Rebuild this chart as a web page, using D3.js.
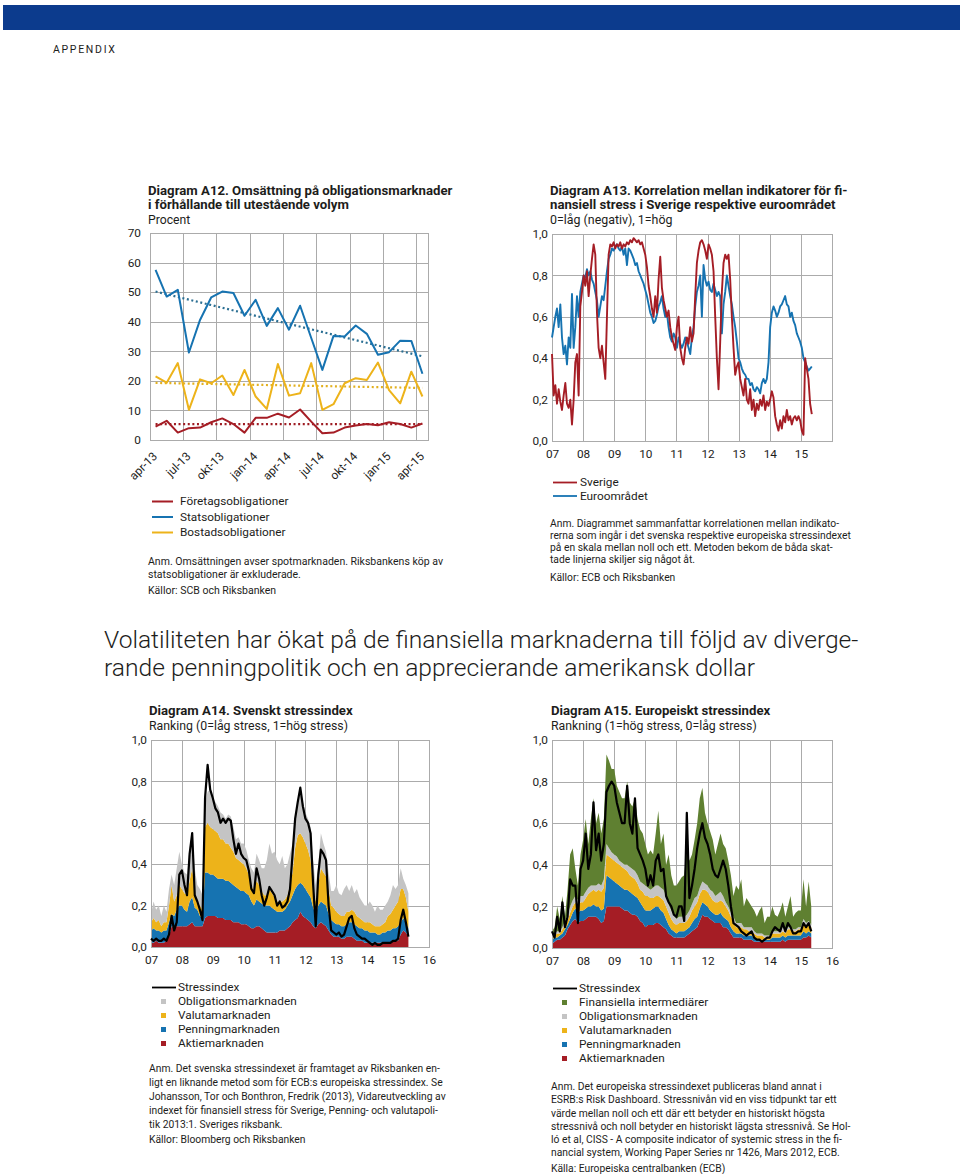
<!DOCTYPE html>
<html lang="sv">
<head>
<meta charset="utf-8">
<script src="https://cdn.jsdelivr.net/npm/d3@7"></script>
<style>
  body { margin: 0; background: #fff; }
  svg text { font-family: Roboto, "Open Sans", sans-serif; fill: #1d1d1b; }
</style>
</head>
<body>
<script>
// ---------- Diagram A12: monthly turnover, per cent ----------
const a12Months = ["apr-13","maj-13","jun-13","jul-13","aug-13","sep-13","okt-13","nov-13","dec-13",
  "jan-14","feb-14","mar-14","apr-14","maj-14","jun-14","jul-14","aug-14","sep-14","okt-14","nov-14",
  "dec-14","jan-15","feb-15","mar-15","apr-15"];
const a12Labels = ["apr-13","jul-13","okt-13","jan-14","apr-14","jul-14","okt-14","jan-15","apr-15"];
const a12Stats   = [57.5,48.5,50.8,29.6,40.6,48.2,50.2,49.7,42,47.4,38.6,44.6,37.3,45.4,34.5,23.7,35.2,35,38.7,35.9,28.8,29.7,33.6,33.5,22.4];
const a12Bostad  = [21.5,19.4,26,10.2,20.5,19.2,21.8,15.2,23.7,14.7,10.5,25.7,15,15.8,26,10.2,12.1,19.2,20.9,20.3,26.2,16.9,12.4,23.1,14.7];
const a12Foretag = [4.5,6.5,2.5,4,4.2,6,7.3,5.4,2.5,7.5,7.5,8.9,7.6,10.3,6.2,2.3,2.5,4.2,4.9,5.4,5,6,5.4,4.2,5.6];
// trend lines: value at first and last month
const a12TrendStats   = [50.2, 28.3];
const a12TrendBostad  = [19.3, 17.6];
const a12TrendForetag = [5.4, 5.4];

// ---------- Diagram A13: correlation, sampled roughly every 20 days from jan 2007 ----------
const a13Start = 2007, a13Step = 0.05353;
const a13Sverige = [
  .42,.22,.27,.18,.25,.19,.15,.22,.28,.18,.16,.2,
  .08,.2,.38,.42,.22,.65,.72,.8,.75,.82,.7,.8,
  .88,.95,.9,.62,.45,.4,.46,.38,.3,.6,.9,.95,
  .94,.96,.93,.95,.94,.96,.93,.95,.94,.96,.95,.97,
  .96,.98,.97,.96,.97,.95,.96,.93,.9,.84,.75,.7,
  .64,.6,.7,.62,.78,.89,.74,.68,.64,.6,.63,.55,
  .5,.47,.44,.55,.6,.45,.4,.37,.45,.5,.47,.55,
  .48,.52,.7,.86,.92,.96,.97,.95,.92,.88,.95,.93,
  .9,.82,.6,.4,.25,.48,.72,.86,.9,.88,.9,.78,
  .6,.45,.32,.36,.38,.3,.26,.22,.3,.2,.18,.25,
  .15,.2,.12,.18,.15,.2,.17,.22,.15,.19,.17,.2,
  .24,.21,.12,.08,.05,.1,.06,.12,.09,.15,.1,.12,
  .08,.11,.12,.1,.12,.1,.05,.03,.4,.35,.3,.18,
  .13];
const a13Euro = [
  .5,.55,.6,.64,.55,.66,.5,.42,.46,.37,.5,.45,
  .71,.45,.55,.7,.6,.72,.76,.8,.79,.83,.8,.82,
  .78,.76,.72,.68,.6,.65,.7,.68,.75,.82,.88,.9,
  .93,.92,.94,.95,.93,.92,.94,.9,.93,.85,.93,.92,
  .9,.88,.85,.86,.82,.8,.78,.76,.73,.7,.66,.62,
  .6,.57,.58,.61,.65,.67,.7,.64,.6,.62,.55,.5,
  .48,.52,.5,.45,.5,.47,.45,.47,.5,.48,.45,.42,
  .5,.55,.65,.72,.75,.8,.6,.85,.78,.75,.77,.73,
  .72,.76,.73,.7,.72,.7,.52,.66,.72,.8,.75,.7,
  .66,.6,.55,.48,.4,.38,.35,.33,.32,.3,.3,.27,
  .28,.25,.24,.26,.25,.23,.28,.3,.28,.3,.38,.55,
  .62,.65,.63,.6,.62,.65,.66,.68,.7,.66,.65,.6,
  .62,.58,.56,.52,.5,.48,.45,.4,.38,.36,.34,.35,
  .36];

// ---------- Diagram A14: Swedish stress index, monthly from jan 2007 ----------
const stressStart = 2007;
const a14Aktie = [
  .02,.02,.03,.02,.02,.02,.03,.05,.10,.10,.10,.10,
  .10,.10,.10,.11,.12,.10,.10,.10,.10,.14,.15,.15,
  .15,.15,.14,.14,.14,.13,.13,.13,.12,.12,.12,.11,
  .11,.11,.10,.09,.09,.10,.10,.09,.08,.07,.07,.07,
  .07,.07,.08,.08,.08,.09,.10,.12,.13,.14,.17,.15,
  .14,.13,.12,.10,.09,.11,.12,.11,.10,.08,.06,.05,
  .05,.05,.04,.04,.05,.05,.05,.04,.03,.03,.03,.02,
  .02,.02,.02,.02,.02,.02,.02,.02,.02,.02,.03,.03,
  .03,.06,.08,.07,.05];
const a14Penning = [
  .06,.07,.05,.06,.05,.06,.05,.07,.06,.05,.08,.10,
  .10,.08,.07,.11,.12,.09,.08,.05,.04,.22,.21,.20,
  .20,.19,.19,.19,.19,.19,.19,.18,.18,.17,.16,.16,
  .16,.15,.15,.13,.11,.13,.12,.12,.12,.13,.13,.12,
  .11,.10,.09,.09,.10,.11,.12,.13,.15,.16,.14,.15,
  .14,.13,.12,.09,.07,.09,.10,.10,.10,.08,.07,.07,
  .06,.06,.06,.06,.06,.07,.07,.07,.07,.06,.06,.06,
  .06,.05,.05,.05,.04,.04,.05,.05,.06,.06,.06,.06,
  .07,.06,.06,.05,.04];
const a14Valuta = [
  .04,.05,.04,.05,.03,.04,.04,.08,.14,.07,.07,.10,
  .08,.08,.08,.10,.14,.08,.04,.05,.04,.22,.24,.23,
  .22,.22,.22,.19,.19,.18,.18,.17,.16,.14,.14,.14,
  .13,.12,.10,.08,.07,.09,.08,.06,.05,.05,.08,.07,
  .06,.05,.05,.05,.05,.05,.08,.11,.20,.24,.24,.23,
  .22,.21,.18,.11,.06,.10,.16,.15,.14,.12,.07,.07,
  .06,.05,.05,.05,.06,.05,.06,.06,.05,.05,.04,.04,
  .04,.05,.04,.03,.04,.04,.04,.05,.07,.08,.09,.11,
  .12,.16,.14,.12,.08];
const a14Oblig = [
  .04,.08,.06,.07,.05,.08,.05,.08,.05,.08,.13,.16,
  .12,.10,.10,.16,.17,.11,.08,.08,.07,.12,.15,.18,
  .15,.14,.13,.13,.12,.12,.14,.15,.12,.09,.11,.09,
  .10,.09,.07,.08,.09,.13,.12,.11,.13,.17,.22,.19,
  .22,.20,.18,.22,.15,.15,.15,.14,.14,.16,.20,.17,
  .15,.15,.16,.12,.08,.10,.17,.14,.12,.08,.07,.08,
  .13,.10,.10,.13,.13,.10,.12,.09,.13,.10,.09,.08,
  .08,.10,.09,.07,.10,.08,.07,.08,.07,.09,.12,.08,
  .08,.10,.05,.06,.09];
const a14Index = [
  .04,.03,.04,.03,.03,.04,.03,.06,.15,.08,.12,.35,
  .37,.30,.25,.45,.55,.25,.22,.18,.13,.72,.88,.76,
  .72,.67,.65,.60,.62,.60,.62,.61,.52,.45,.50,.45,
  .43,.42,.37,.28,.26,.38,.33,.25,.20,.24,.29,.27,
  .25,.20,.22,.19,.20,.22,.28,.45,.62,.70,.77,.68,
  .62,.60,.55,.30,.10,.35,.47,.45,.42,.20,.08,.07,
  .06,.07,.05,.06,.10,.14,.15,.09,.06,.05,.04,.04,
  .03,.02,.01,.02,.01,.01,.02,.02,.02,.02,.03,.03,
  .04,.13,.18,.12,.05];

// ---------- Diagram A15: European stress index (CISS), monthly from jan 2007 ----------
const a15Aktie = [
  .02,.03,.04,.04,.05,.06,.09,.11,.13,.14,.12,.13,
  .13,.14,.15,.15,.15,.15,.14,.12,.13,.20,.20,.20,
  .20,.20,.20,.19,.18,.18,.17,.16,.16,.15,.13,.12,
  .10,.11,.11,.11,.12,.12,.11,.10,.09,.07,.06,.05,
  .05,.05,.05,.05,.06,.07,.08,.09,.10,.13,.16,.15,
  .15,.14,.13,.12,.12,.12,.10,.10,.09,.07,.05,.05,
  .05,.05,.04,.04,.04,.04,.03,.03,.03,.03,.03,.03,
  .03,.03,.03,.03,.03,.04,.03,.04,.04,.04,.04,.04,
  .04,.05,.05,.06,.05];
const a15Penning = [
  .02,.02,.01,.02,.02,.03,.02,.03,.04,.05,.05,.05,
  .05,.05,.05,.05,.06,.05,.06,.06,.06,.15,.14,.13,
  .12,.11,.10,.10,.10,.10,.10,.10,.09,.09,.09,.08,
  .08,.07,.07,.08,.08,.08,.07,.07,.05,.04,.03,.03,
  .02,.03,.03,.03,.03,.03,.04,.05,.05,.06,.06,.06,
  .05,.04,.04,.04,.04,.05,.05,.04,.04,.03,.03,.02,
  .02,.02,.02,.02,.02,.02,.02,.01,.01,.01,.01,.01,
  .01,.02,.02,.02,.02,.02,.02,.02,.02,.02,.02,.02,
  .02,.03,.02,.02,.02];
const a15Valuta = [
  .01,.01,.02,.01,.02,.02,.02,.03,.03,.03,.03,.04,
  .04,.05,.06,.07,.07,.07,.08,.09,.10,.10,.10,.10,
  .10,.10,.10,.10,.10,.09,.08,.08,.08,.07,.06,.07,
  .07,.07,.06,.05,.05,.05,.06,.06,.06,.06,.05,.04,
  .04,.04,.04,.04,.04,.05,.06,.06,.07,.07,.06,.07,
  .07,.07,.06,.06,.06,.06,.07,.06,.05,.05,.05,.03,
  .03,.03,.03,.03,.02,.02,.02,.02,.02,.02,.01,.01,
  .01,.02,.02,.02,.02,.02,.02,.03,.03,.02,.02,.03,
  .03,.04,.04,.04,.03];
const a15Oblig = [
  .01,.01,.01,.01,.01,.02,.03,.03,.03,.03,.03,.03,
  .03,.03,.03,.03,.02,.03,.03,.03,.04,.05,.04,.03,
  .03,.03,.02,.02,.02,.03,.04,.04,.04,.04,.04,.04,
  .05,.04,.04,.05,.05,.05,.05,.05,.05,.04,.04,.04,
  .03,.03,.03,.03,.03,.03,.03,.04,.03,.03,.04,.03,
  .03,.03,.04,.03,.04,.04,.03,.02,.02,.02,.02,.02,
  .02,.02,.01,.01,.02,.02,.01,.01,.01,.01,.01,.01,
  .01,.01,.01,.01,.01,.02,.01,.01,.01,.01,.01,.01,
  .01,.02,.01,.01,.01];
const a15Fin = [
  .02,.03,.12,.06,.15,.02,.12,.25,.25,.13,.07,.20,
  .27,.35,.21,.32,.42,.30,.34,.25,.29,.43,.42,.40,
  .41,.34,.33,.31,.32,.40,.31,.30,.35,.27,.25,.24,
  .20,.16,.19,.16,.25,.36,.21,.27,.15,.24,.17,.14,
  .16,.17,.19,.20,.34,.24,.24,.28,.35,.43,.45,.34,
  .30,.28,.25,.20,.24,.28,.25,.26,.22,.18,.10,.18,
  .16,.21,.10,.14,.12,.10,.10,.08,.11,.13,.06,.09,
  .09,.12,.08,.07,.10,.12,.07,.10,.15,.06,.08,.08,
  .08,.19,.08,.19,.09];
const a15Index = [
  .08,.05,.15,.08,.22,.10,.15,.33,.30,.30,.12,.38,
  .42,.55,.38,.45,.70,.47,.55,.42,.50,.75,.78,.80,
  .78,.70,.65,.60,.60,.78,.60,.55,.72,.48,.45,.42,
  .38,.30,.35,.30,.42,.45,.37,.38,.25,.22,.20,.16,
  .15,.20,.20,.13,.65,.24,.30,.38,.48,.55,.60,.53,
  .50,.45,.38,.35,.34,.38,.42,.38,.30,.20,.12,.11,
  .10,.08,.07,.06,.07,.08,.05,.04,.04,.03,.04,.05,
  .05,.08,.10,.09,.08,.12,.08,.12,.10,.07,.07,.08,
  .08,.12,.10,.12,.08];

const yearTicks = d3.range(2007, 2017);

// ---------- page ----------
const W = 960, H = 1174;
const gridCol = "#ababab";
const cRed = "#a51d25", cBlue = "#1673b1", cYellow = "#edb31a", cGray = "#c4c4c4", cGreen = "#5f8031";
const fmtComma = d3.formatLocale({decimal: ",", thousands: " ", grouping: [3], currency: ["", ""]}).format(".1f");

const svg = d3.select("body").append("svg").attr("width", W).attr("height", H);

svg.append("rect").attr("x", 3).attr("y", 5).attr("width", W - 3).attr("height", 25).attr("fill", "#0c3b8d");
svg.append("text").attr("x", 53).attr("y", 53).attr("font-size", 10.5).attr("letter-spacing", 1.7).text("APPENDIX");

// block of text lines; sx squeezes the glyphs horizontally (the original face is narrow)
function lines(x, ys, texts, size, weight, sx) {
  const g = svg.append("g").attr("transform", `translate(${x},0) scale(${sx || 1},1)`);
  texts.forEach((t, i) => {
    g.append("text").attr("x", 0).attr("y", ys[i]).attr("font-size", size)
      .attr("font-weight", weight || 400).text(t);
  });
  return g;
}

// grid + labels using d3 axes
function axes(g, x, y, xVals, yVals, yFmt, xFmt, yPad, xPad) {
  const [yb, yt] = y.range(), [xl, xr] = x.range();
  g.append("g").attr("transform", `translate(${xl},0)`)
    .call(d3.axisLeft(y).tickValues(yVals).tickSize(-(xr - xl)).tickPadding(yPad).tickFormat(yFmt))
    .call(a => a.select(".domain").remove())
    .call(a => a.selectAll("line").attr("stroke", gridCol).attr("shape-rendering", "crispEdges"))
    .call(a => a.selectAll("text").attr("font-size", 11.8).attr("font-family", null).attr("fill", null));
  if (x.bandwidth) return;
  g.append("g").attr("transform", `translate(0,${yb})`)
    .call(d3.axisBottom(x).tickValues(xVals).tickSize(-(yb - yt)).tickPadding(xPad).tickFormat(xFmt))
    .call(a => a.select(".domain").remove())
    .call(a => a.selectAll("line").attr("stroke", gridCol).attr("shape-rendering", "crispEdges"))
    .call(a => a.selectAll("text").attr("font-size", 11.8).attr("font-family", null).attr("fill", null));
}

function frame(g, x, y) {
  const [yb, yt] = y.range(), [xl, xr] = x.range();
  g.append("rect").attr("x", xl).attr("y", yt).attr("width", xr - xl).attr("height", yb - yt)
    .attr("fill", "none").attr("stroke", gridCol).attr("shape-rendering", "crispEdges");
}

// ---------- A12 ----------
{
  lines(148, [195, 209], ["Diagram A12. Omsättning på obligationsmarknader", "i förhållande till utestående volym"], 13.2, 700);
  lines(148, [224], ["Procent"], 12.2);

  const x = d3.scaleBand().domain(a12Months).range([150, 428]);
  const y = d3.scaleLinear().domain([0, 70]).range([440, 233]);
  const bw = x.bandwidth();
  const g = svg.append("g");
  axes(g, x, y, null, d3.range(0, 71, 10), d3.format("d"), null, 9, 0);

  g.append("g").attr("transform", `translate(${-bw / 2},440)`)
    .call(d3.axisBottom(x).tickValues(a12Labels).tickSize(-207))
    .call(a => a.select(".domain").remove())
    .call(a => a.selectAll("line").attr("stroke", gridCol).attr("shape-rendering", "crispEdges"))
    .call(a => a.selectAll("text").attr("font-size", 11.8).attr("font-family", null).attr("fill", null)
      .attr("x", 0).attr("y", 0).attr("dy", null).attr("text-anchor", "end")
      .attr("transform", "translate(8,17) rotate(-45)"));
  frame(g, x, y);

  const cx = m => x(m) + bw / 2;
  const line = d3.line().x((d, i) => cx(a12Months[i])).y(d => y(d));
  const trend = d3.line().x((d, i) => cx(a12Months[i === 0 ? 0 : a12Months.length - 1])).y(d => y(d));

  [[a12TrendStats, "#2b6f93"], [a12TrendBostad, "#e2b01f"], [a12TrendForetag, "#9e1c23"]].forEach(([d, c]) => {
    g.append("path").attr("d", trend(d)).attr("fill", "none").attr("stroke", c)
      .attr("stroke-width", 2.2).attr("stroke-dasharray", "2,2.6");
  });
  [[a12Bostad, cYellow], [a12Foretag, cRed], [a12Stats, cBlue]].forEach(([d, c]) => {
    g.append("path").attr("d", line(d)).attr("fill", "none").attr("stroke", c)
      .attr("stroke-width", 2).attr("stroke-linejoin", "round");
  });

  const leg = [["Företagsobligationer", cRed], ["Statsobligationer", cBlue], ["Bostadsobligationer", cYellow]];
  leg.forEach(([t, c], i) => {
    const by = 505 + i * 15.5;
    svg.append("line").attr("x1", 152).attr("x2", 173).attr("y1", by - 3.5).attr("y2", by - 3.5)
      .attr("stroke", c).attr("stroke-width", 2);
    svg.append("text").attr("x", 180).attr("y", by).attr("font-size", 11.8).text(t);
  });

  lines(148, [565, 578], ["Anm. Omsättningen avser spotmarknaden. Riksbankens köp av",
    "statsobligationer är exkluderade."], 11.5, 400, 0.915);
  lines(148, [594], ["Källor: SCB och Riksbanken"], 11.5, 400, 0.915);
}

// ---------- A13 ----------
{
  lines(550, [195, 209], ["Diagram A13. Korrelation mellan indikatorer för fi-",
    "nansiell stress i Sverige respektive euroområdet"], 13.2, 700);
  lines(550, [224], ["0=låg (negativ), 1=hög"], 12.4);

  const x = d3.scaleLinear().domain([2007, 2016]).range([552, 832]);
  const y = d3.scaleLinear().domain([0, 1]).range([441, 234]);
  const g = svg.append("g");
  axes(g, x, y, d3.range(2007, 2016), d3.range(0, 1.01, 0.2), fmtComma, d => String(d).slice(2), 4, 8.6);
  frame(g, x, y);

  const line = d3.line().x((d, i) => x(a13Start + i * a13Step)).y(d => y(d));
  g.append("path").attr("d", line(a13Euro)).attr("fill", "none").attr("stroke", cBlue)
    .attr("stroke-width", 1.9).attr("stroke-linejoin", "round");
  g.append("path").attr("d", line(a13Sverige)).attr("fill", "none").attr("stroke", cRed)
    .attr("stroke-width", 1.9).attr("stroke-linejoin", "round");

  [["Sverige", cRed], ["Euroområdet", cBlue]].forEach(([t, c], i) => {
    const by = 486 + i * 13.5;
    svg.append("line").attr("x1", 553).attr("x2", 577).attr("y1", by - 3.5).attr("y2", by - 3.5)
      .attr("stroke", c).attr("stroke-width", 1.8);
    svg.append("text").attr("x", 580).attr("y", by).attr("font-size", 11.8).text(t);
  });

  lines(550, [527, 539, 551, 563], [
    "Anm. Diagrammet sammanfattar korrelationen mellan indikato-",
    "rerna som ingår i det svenska respektive europeiska stressindexet",
    "på en skala mellan noll och ett.  Metoden bekom de båda skat-",
    "tade linjerna skiljer sig något åt."], 11.4, 400, 0.905);
  lines(550, [581], ["Källor: ECB och Riksbanken"], 11.4, 400, 0.905);
}

// ---------- heading ----------
lines(104, [648, 676], [
  "Volatiliteten har ökat på de finansiella marknaderna till följd av diverge-",
  "rande penningpolitik och en apprecierande amerikansk dollar"], 24.6, 300);

// ---------- stacked stress charts ----------
function stressChart(x, y, keys, cols, comps, index) {
  const g = svg.append("g");
  axes(g, x, y, yearTicks, d3.range(0, 1.01, 0.2), fmtComma, d => String(d).slice(2), 4, 9);
  const rows = index.map((v, i) => {
    const r = {t: stressStart + i / 12};
    keys.forEach((k, j) => r[k] = comps[j][i]);
    return r;
  });
  const series = d3.stack().keys(keys)(rows);
  const area = d3.area().x(d => x(d.data.t)).y0(d => y(d[0])).y1(d => y(d[1]));
  g.selectAll("path.layer").data(series).join("path").attr("class", "layer")
    .attr("d", area).attr("fill", (d, i) => cols[i]);
  frame(g, x, y);
  const line = d3.line().x((d, i) => x(stressStart + i / 12)).y(d => y(d));
  g.append("path").attr("d", line(index)).attr("fill", "none").attr("stroke", "#000")
    .attr("stroke-width", 2.2).attr("stroke-linejoin", "round");
}

function stressLegend(x0, y0, step, items) {
  items.forEach(([t, c], i) => {
    const by = y0 + i * step;
    if (c === null) {
      svg.append("line").attr("x1", x0).attr("x2", x0 + 24).attr("y1", by - 3.5).attr("y2", by - 3.5)
        .attr("stroke", "#000").attr("stroke-width", 1.8);
    } else {
      svg.append("rect").attr("x", x0 + 9).attr("y", by - 6).attr("width", 5).attr("height", 5).attr("fill", c);
    }
    svg.append("text").attr("x", x0 + 26).attr("y", by).attr("font-size", 11.8).text(t);
  });
}

// A14
{
  lines(149, [715], ["Diagram A14. Svenskt stressindex"], 13.2, 700);
  lines(149, [730], ["Ranking (0=låg stress, 1=hög stress)"], 12.3);
  const x = d3.scaleLinear().domain([2007, 2016]).range([151, 429]);
  const y = d3.scaleLinear().domain([0, 1]).range([947, 740]);
  stressChart(x, y, ["aktie", "penning", "valuta", "oblig"], [cRed, cBlue, cYellow, cGray],
    [a14Aktie, a14Penning, a14Valuta, a14Oblig], a14Index);
  stressLegend(152, 991, 14, [["Stressindex", null], ["Obligationsmarknaden", cGray],
    ["Valutamarknaden", cYellow], ["Penningmarknaden", cBlue], ["Aktiemarknaden", cRed]]);
  lines(149, [1072, 1086, 1100, 1114, 1128], [
    "Anm. Det svenska stressindexet är framtaget av Riksbanken en-",
    "ligt en liknande metod som för ECB:s europeiska stressindex. Se",
    "Johansson, Tor och Bonthron, Fredrik (2013), Vidareutveckling av",
    "indexet för finansiell stress för Sverige, Penning- och valutapoli-",
    "tik 2013:1. Sveriges riksbank."], 11.4, 400, 0.905);
  lines(149, [1143], ["Källor: Bloomberg och Riksbanken"], 11.4, 400, 0.905);
}

// A15
{
  lines(551, [715], ["Diagram A15. Europeiskt stressindex"], 13.2, 700);
  lines(551, [730], ["Rankning (1=hög stress, 0=låg stress)"], 12.3);
  const x = d3.scaleLinear().domain([2007, 2016]).range([552, 832]);
  const y = d3.scaleLinear().domain([0, 1]).range([948, 740]);
  stressChart(x, y, ["aktie", "penning", "valuta", "oblig", "fin"], [cRed, cBlue, cYellow, cGray, cGreen],
    [a15Aktie, a15Penning, a15Valuta, a15Oblig, a15Fin], a15Index);
  stressLegend(553, 992, 14, [["Stressindex", null], ["Finansiella intermediärer", cGreen],
    ["Obligationsmarknaden", cGray], ["Valutamarknaden", cYellow], ["Penningmarknaden", cBlue],
    ["Aktiemarknaden", cRed]]);
  lines(551, [1090, 1103.3, 1116.6, 1129.9, 1143.2, 1156.5], [
    "Anm. Det europeiska stressindexet publiceras bland annat i",
    "ESRB:s Risk Dashboard. Stressnivån vid en viss tidpunkt tar ett",
    "värde mellan noll och ett där ett betyder en historiskt högsta",
    "stressnivå och noll betyder en historiskt lägsta stressnivå. Se Hol-",
    "ló et al, CISS - A composite indicator of systemic stress in the fi-",
    "nancial system, Working Paper Series nr 1426, Mars 2012, ECB."], 11.4, 400, 0.905);
  lines(551, [1172], ["Källa: Europeiska centralbanken (ECB)"], 11.4, 400, 0.905);
}
</script>
</body>
</html>
